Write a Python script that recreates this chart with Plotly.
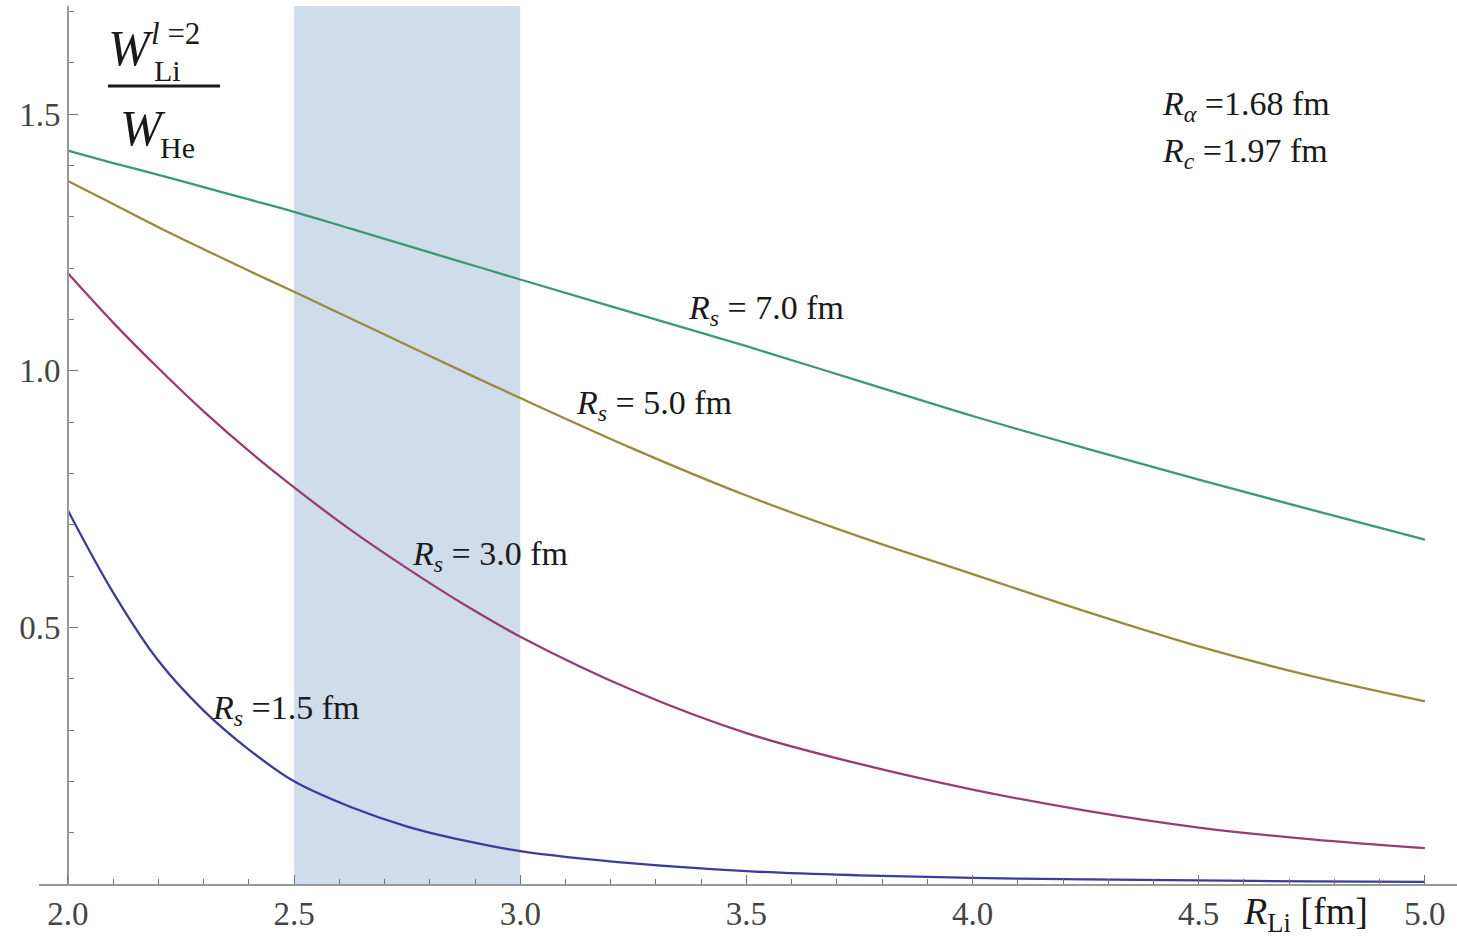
import plotly.graph_objects as go

# R_Li [fm] grid and W_Li(l=2)/W_He
r_li = [2.0, 2.1, 2.2, 2.3, 2.4, 2.5, 2.625, 2.75, 2.875, 3.0,
        3.25, 3.5, 3.75, 4.0, 4.25, 4.5, 4.75, 5.0]
ratio_rs15 = [0.728, 0.568, 0.435, 0.338, 0.262, 0.200, 0.150, 0.112, 0.085, 0.064,
              0.040, 0.025, 0.017, 0.012, 0.009, 0.007, 0.005, 0.004]
ratio_rs30 = [1.190, 1.094, 1.005, 0.921, 0.844, 0.773, 0.690, 0.615, 0.545, 0.482,
              0.377, 0.294, 0.234, 0.184, 0.143, 0.110, 0.087, 0.070]
ratio_rs50 = [1.370, 1.325, 1.280, 1.237, 1.195, 1.154, 1.102, 1.050, 0.998, 0.947,
              0.848, 0.757, 0.677, 0.604, 0.531, 0.463, 0.405, 0.356]
ratio_rs70 = [1.429, 1.405, 1.382, 1.358, 1.334, 1.310, 1.277, 1.244, 1.211, 1.178,
              1.113, 1.048, 0.980, 0.912, 0.849, 0.788, 0.729, 0.671]

series_names = ["1.5", "3.0", "5.0", "7.0"]
series_colors = ["#3d3d99", "#993d71", "#998b3d", "#3d9971"]
band = [2.5, 3.0]

x_ticks = [2.0, 2.5, 3.0, 3.5, 4.0, 4.5, 5.0]
x_ticktext = ["2.0", "2.5", "3.0", "3.5", "4.0", "4.5", "5.0"]
y_ticks = [0.5, 1.0, 1.5]
y_ticktext = ["0.5", "1.0", "1.5"]

W, H = 1457, 944
ML, MR, MT, MB = 39, 0, 6, 60
x_range = [1.936, 5.071]
y_range = [0.0, 1.711]
SERIF = "Liberation Serif"

fig = go.Figure()
for name, ys, col in zip(series_names, [ratio_rs15, ratio_rs30, ratio_rs50, ratio_rs70], series_colors):
    fig.add_trace(go.Scatter(x=r_li, y=ys, mode="lines", name="Rs=" + name,
                             line=dict(color=col, width=2.3, shape="spline")))

fig.add_vrect(x0=band[0], x1=band[1], fillcolor="#cfdcec", line_width=0, layer="below")


def px(xp, yp):
    # pixel position in the picture -> paper coordinates
    return (xp - ML) / (W - ML - MR), (H - MB - yp) / (H - MT - MB)


def label(text, xp, yp, size, anchor="left"):
    ax, ay = px(xp, yp)
    fig.add_annotation(text=text, x=ax, y=ay, xref="paper", yref="paper",
                       xanchor=anchor, yanchor="middle", showarrow=False,
                       font=dict(family=SERIF, size=size, color="#1a1a1a"))


# y-axis title as a stacked fraction
label("<i>W</i>", 106, 48, 50)
label("<i>l</i> =2", 149, 33, 31)
label("Li", 152, 70, 30)
label("<i>W</i>", 118, 128, 50)
label("He", 158, 147, 30)
bx0, by = px(108, 86)
bx1, _ = px(220, 86)
fig.add_shape(type="line", xref="paper", yref="paper", x0=bx0, x1=bx1, y0=by, y1=by,
              line=dict(color="#1a1a1a", width=3))

# parameters
label("<i>R</i><sub><i>α</i></sub> =1.68 fm", 1160, 106, 34)
label("<i>R</i><sub><i>c</i></sub> =1.97 fm", 1160, 153, 34)

# curve labels
label("<i>R</i><sub><i>s</i></sub> = 7.0 fm", 686, 310, 34)
label("<i>R</i><sub><i>s</i></sub> = 5.0 fm", 574, 405, 34)
label("<i>R</i><sub><i>s</i></sub> = 3.0 fm", 410, 556, 34)
label("<i>R</i><sub><i>s</i></sub> =1.5 fm", 210, 710, 34)

# x-axis title
label("<i>R</i><sub>Li</sub> [fm]", 1241, 914, 38)

tickfont = dict(family=SERIF, size=33, color="#444")
fig.update_layout(
    width=W, height=H,
    margin=dict(l=ML, r=MR, t=MT, b=MB),
    plot_bgcolor="white", paper_bgcolor="white",
    showlegend=False,
    xaxis=dict(range=x_range, tickvals=x_ticks, ticktext=x_ticktext,
               ticks="inside", ticklen=9, tickwidth=1, tickcolor="#777",
               minor=dict(ticks="inside", ticklen=5, dtick=0.1, tick0=2.0, tickcolor="#777"),
               showline=True, linecolor="#999", linewidth=1.5,
               showgrid=False, zeroline=False, tickfont=tickfont),
    yaxis=dict(range=y_range, tickvals=y_ticks, ticktext=y_ticktext,
               anchor="free", position=(2.0 - x_range[0]) / (x_range[1] - x_range[0]),
               ticks="inside", ticklen=9, tickwidth=1, tickcolor="#777",
               minor=dict(ticks="inside", ticklen=5, dtick=0.1, tick0=0.0, tickcolor="#777"),
               showline=True, linecolor="#999", linewidth=1.5,
               showgrid=False, zeroline=False, tickfont=tickfont),
)

# drop the default page margin so the figure sits at the window's corner
fig.write_html("out.html", config={"displayModeBar": False},
               post_script="document.body.style.margin='0px';")
